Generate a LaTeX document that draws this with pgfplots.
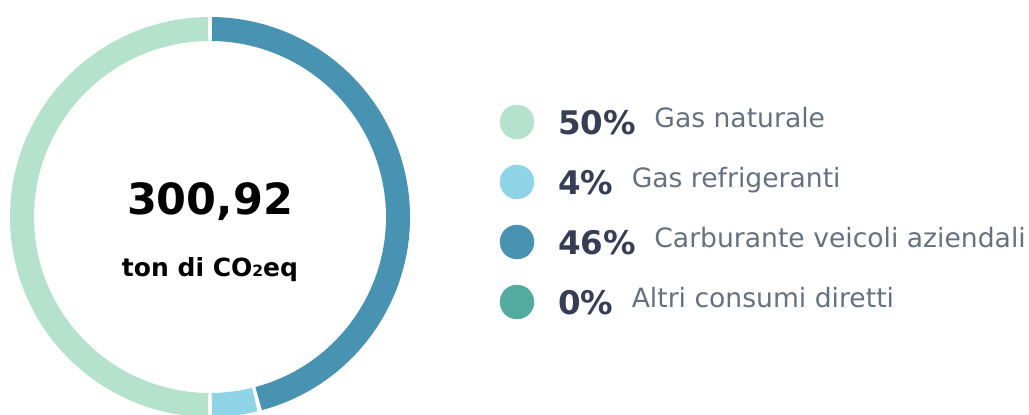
\documentclass[border=0pt]{standalone}
\usepackage{pgfplots}
\pgfplotsset{compat=1.18}
\usepackage{pgfplotstable}
\usepackage{fontspec}
\setmainfont{DejaVu Sans}
\definecolor{seg0}{HTML}{B5E2CD}
\definecolor{seg1}{HTML}{8FD3E6}
\definecolor{seg2}{HTML}{4893B1}
\definecolor{seg3}{HTML}{52AB9E}
\definecolor{pctcol}{HTML}{363D54}
\definecolor{labcol}{HTML}{657081}

\pgfplotstableread{
share
50
4
46
0
}\sharetable

\begin{document}
\begin{tikzpicture}
\begin{axis}[hide axis, scale only axis, width=1029pt, height=415pt,
  xmin=0, xmax=1029, ymin=0, ymax=415, clip=false, at={(0,0)}, anchor=south west]
% ring
\pgfplotsextra{%
  \gdef\angstart{90}%
  \pgfplotstableforeachcolumnelement{share}\of\sharetable\as\v{%
    \pgfmathsetmacro\angend{\angstart+3.6*\v}%
    \ifdim\v pt>0pt
      \pgfmathsetmacro\aa{\angstart+0.6}%
      \pgfmathsetmacro\bb{\angend-0.6}%
      \draw[line width=24pt, color=seg\pgfplotstablerow]
        ([shift={(\aa:188pt)}]axis cs:210,198) arc[start angle=\aa, end angle=\bb, radius=188pt];
    \fi
    \xdef\angstart{\angend}%
  }%
}
% legend dots
\addplot[only marks, mark=*, mark size=17pt, color=seg0] coordinates {(517,293)};
\addplot[only marks, mark=*, mark size=17pt, color=seg1] coordinates {(517,233)};
\addplot[only marks, mark=*, mark size=17pt, color=seg2] coordinates {(517,173)};
\addplot[only marks, mark=*, mark size=17pt, color=seg3] coordinates {(517,113)};
% centre text
\node[anchor=base, inner sep=0pt] at (axis cs:210,200) {\fontsize{43}{47}\selectfont\bfseries 300,92};
\node[anchor=base, inner sep=0pt] at (axis cs:210,138) {\fontsize{25}{29}\selectfont\bfseries ton di CO{\fontsize{15.5}{15.5}\selectfont 2}eq};
% legend text
\node[anchor=base west, inner sep=0pt, text=pctcol] (p1) at (axis cs:558,280) {\fontsize{32.5}{36}\selectfont\bfseries 50\%};
\node[anchor=base west, inner sep=0pt, text=labcol] at ([xshift=18pt, yshift=7pt]p1.base east) {\fontsize{26.6}{30}\selectfont Gas naturale};
\node[anchor=base west, inner sep=0pt, text=pctcol] (p2) at (axis cs:558,220) {\fontsize{32.5}{36}\selectfont\bfseries 4\%};
\node[anchor=base west, inner sep=0pt, text=labcol] at ([xshift=18pt, yshift=7pt]p2.base east) {\fontsize{26.6}{30}\selectfont Gas refrigeranti};
\node[anchor=base west, inner sep=0pt, text=pctcol] (p3) at (axis cs:558,160) {\fontsize{32.5}{36}\selectfont\bfseries 46\%};
\node[anchor=base west, inner sep=0pt, text=labcol] at ([xshift=18pt, yshift=7pt]p3.base east) {\fontsize{26.6}{30}\selectfont Carburante veicoli aziendali};
\node[anchor=base west, inner sep=0pt, text=pctcol] (p4) at (axis cs:558,100) {\fontsize{32.5}{36}\selectfont\bfseries 0\%};
\node[anchor=base west, inner sep=0pt, text=labcol] at ([xshift=18pt, yshift=7pt]p4.base east) {\fontsize{26.6}{30}\selectfont Altri consumi diretti};
\end{axis}
\pgfresetboundingbox
\path (0,0) rectangle (1029pt,415pt);
\end{tikzpicture}
\end{document}
